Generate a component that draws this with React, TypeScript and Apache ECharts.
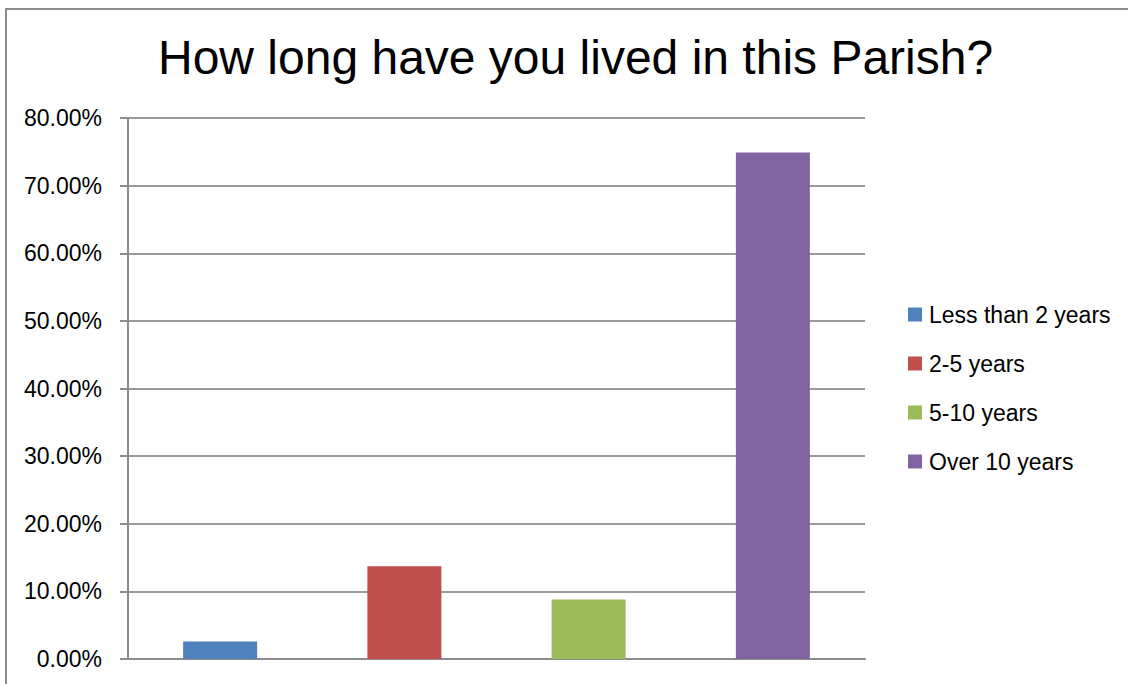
import React, { useEffect, useRef } from "react";
import * as echarts from "echarts";

const categories = ["Less than 2 years", "2-5 years", "5-10 years", "Over 10 years"];
const values = [2.6, 13.7, 8.8, 74.9];
const colors = ["#4F81BD", "#C0504D", "#9BBB59", "#8064A2"];
const yTicks = { min: 0, max: 80, interval: 10 };
const titleText = "How long have you lived in this Parish?";

export default function App() {
  const ref = useRef<HTMLDivElement>(null);
  useEffect(() => {
    if (!ref.current) return;
    const chart = echarts.init(ref.current, undefined, { renderer: "svg" });
    const series = categories.map((name, i) => ({
      name,
      type: "bar",
      stack: "all",
      barWidth: 74,
      itemStyle: { color: colors[i] },
      data: categories.map((_, j) => (j === i ? values[i] : null)),
    }));
    chart.setOption({
      animation: false,
      backgroundColor: "#ffffff",
      title: {
        text: titleText,
        left: 153,
        top: 28,
        textStyle: {
          fontFamily: "Liberation Sans",
          fontSize: 48,
          fontWeight: "normal",
          color: "#000",
        },
      },
      graphic: [
        {
          type: "rect",
          shape: { x: 6, y: 9, width: 1140, height: 700 },
          style: { fill: "none", stroke: "#8c8c8c", lineWidth: 2 },
          silent: true,
        },
      ],
      legend: {
        orient: "vertical",
        left: 903,
        top: 298,
        itemWidth: 14,
        itemHeight: 14,
        itemGap: 26,
        icon: "rect",
        textStyle: {
          fontFamily: "Liberation Sans",
          fontSize: 23,
          color: "#000",
          padding: [0, 0, 0, 2],
        },
        data: categories,
      },
      grid: { left: 128, right: 263, top: 118, bottom: 25, containLabel: false },
      xAxis: {
        type: "category",
        data: categories,
        axisLine: { show: true, lineStyle: { color: "#8c8c8c", width: 2 } },
        axisTick: { show: false },
        axisLabel: { show: false },
      },
      yAxis: {
        type: "value",
        min: yTicks.min,
        max: yTicks.max,
        interval: yTicks.interval,
        axisLine: { show: true, lineStyle: { color: "#8c8c8c", width: 2 } },
        axisTick: { show: true, length: 8, lineStyle: { color: "#8c8c8c", width: 2 } },
        splitLine: { show: true, lineStyle: { color: "#9a9a9a", width: 2 } },
        axisLabel: {
          margin: 26,
          fontFamily: "Liberation Sans",
          fontSize: 23,
          color: "#000",
          formatter: (v: number) => v.toFixed(2) + "%",
        },
      },
      series,
    });
    return () => chart.dispose();
  }, []);
  return (
    <div
      ref={ref}
      style={{ position: "fixed", left: 0, top: 0, width: 1128, height: 684, background: "#fff" }}
    />
  );
}
